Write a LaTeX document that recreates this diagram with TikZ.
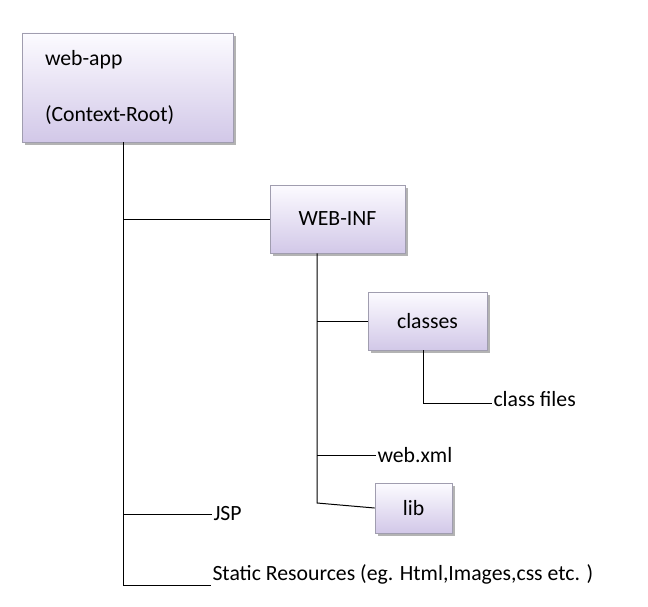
\documentclass[tikz,border=0pt]{standalone}
\usepackage{fontspec}
\setmainfont{Carlito}
\usetikzlibrary{shadows}

\definecolor{boxtop}{RGB}{252,251,255}
\definecolor{boxbottom}{RGB}{210,200,232}
\definecolor{boxedge}{RGB}{160,157,175}

\tikzset{every picture/.style={line width=0.75pt}}
\tikzset{folderbox/.style={draw=boxedge, line width=0.6pt, top color=boxtop, bottom color=boxbottom,
    drop shadow={shadow xshift=2pt, shadow yshift=-2pt, fill=black!50, opacity=0.6},
    font=\fontsize{16.3pt}{19pt}\selectfont, inner sep=0pt},
  itemtext/.style={anchor=west, inner sep=0.75pt, font=\fontsize{16.3pt}{19pt}\selectfont}}

\begin{document}
\begin{tikzpicture}[x=0.75pt,y=0.75pt,yscale=-1,xscale=1]
	\useasboundingbox (0,0) rectangle (648,606);
	
	%Shape: Rectangle [web-app]
	\node (webapp) [folderbox, minimum width=158.25pt, minimum height=81.75pt, text width=123.75pt, align=left] at (127.5,87.5) {web-app\\[23pt](Context-Root)};
	%Shape: Rectangle [WEB-INF]
	\node (webinf) [folderbox, minimum width=101.25pt, minimum height=51pt] at (337.5,219) {WEB-INF};
	%Shape: Rectangle [classes]
	\node (classes) [folderbox, minimum width=89.25pt, minimum height=43.5pt] at (427.5,321) {classes};
	%Shape: Rectangle [lib]
	\node (lib) [folderbox, minimum width=57.75pt, minimum height=37.5pt] at (413.5,508) {lib};
	
	% Text Node
	\node (classfiles) [itemtext] at (492,399) {class files};
	% Text Node
	\node (webxml) [itemtext] at (376,455) {web.xml};
	% Text Node
	\node (jsp) [itemtext] at (212,514) {JSP};
	% Text Node
	\node (static) [itemtext] at (211,574) {Static Resources (eg. Html,Images,css etc. )};
	
	%Corner points
	\coordinate (rootend) at (123,585);
	\coordinate (infend) at (317,503);
	\coordinate (classend) at (423,403);
	
	%Straight Lines [trunk]
	\draw (webapp.south -| rootend) -- (rootend) -- (rootend -| static.west);
	%Straight Lines
	\draw (webinf.west -| rootend) -- (webinf.west);
	%Straight Lines
	\draw (jsp.west -| rootend) -- (jsp.west);
	%Straight Lines [WEB-INF branch]
	\draw (webinf.south -| infend) -- (infend) -- (lib.west);
	%Straight Lines
	\draw (classes.west -| infend) -- (classes.west);
	%Straight Lines
	\draw (webxml.west -| infend) -- (webxml.west);
	%Straight Lines [classes branch]
	\draw (classes.south -| classend) -- (classend) -- (classend -| classfiles.west);
	
\end{tikzpicture}
\end{document}
